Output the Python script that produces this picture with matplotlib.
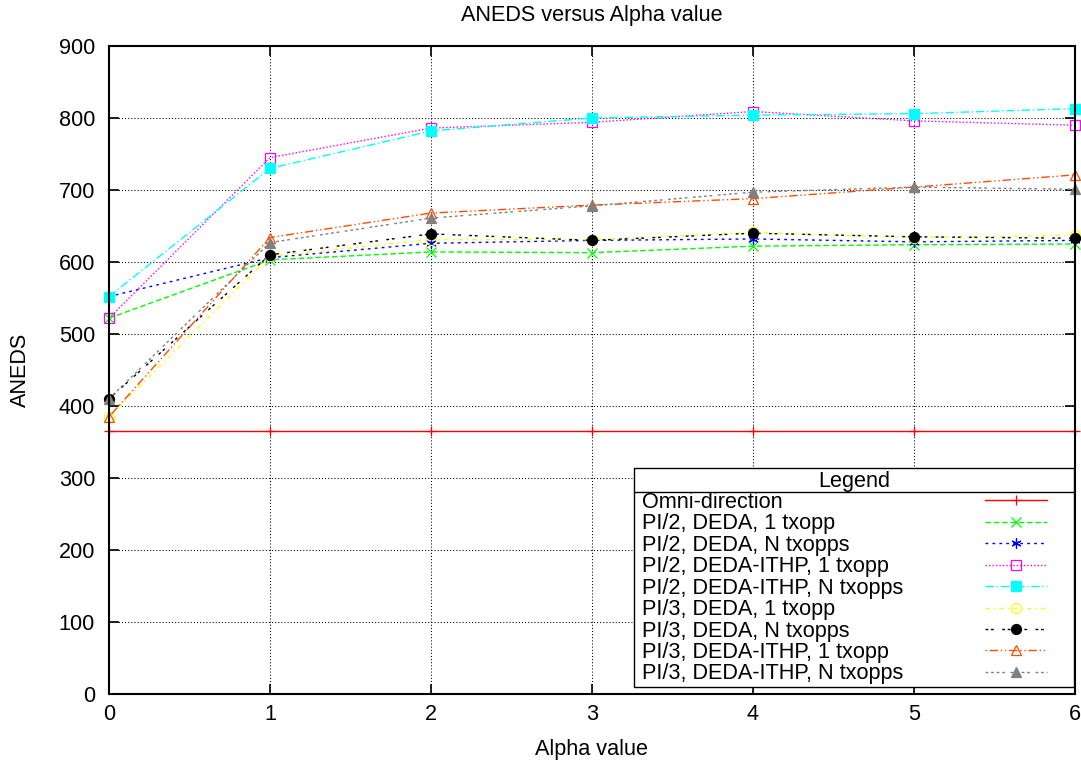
import matplotlib
matplotlib.use("Agg")
import matplotlib.pyplot as plt
from matplotlib.legend_handler import HandlerLine2D
from matplotlib.lines import Line2D
from matplotlib.offsetbox import HPacker, DrawingArea

# ---- data -------------------------------------------------------------
alpha = [0, 1, 2, 3, 4, 5, 6]

omni = [365, 365, 365, 365, 365, 365, 365]
pi2_deda_1 = [522, 603, 614, 613, 622, 624, 625]
pi2_deda_n = [552, 606, 626, 630, 632, 628, 630]
pi2_ithp_1 = [522, 745, 786, 794, 809, 796, 790]
pi2_ithp_n = [552, 730, 782, 800, 804, 806, 813]
pi3_deda_1 = [385, 608, 631, 631, 641, 634, 637]
pi3_deda_n = [410, 610, 639, 630, 640, 635, 633]
pi3_ithp_1 = [385, 634, 668, 679, 688, 704, 721]
pi3_ithp_n = [410, 627, 661, 678, 697, 704, 701]

series = [omni, pi2_deda_1, pi2_deda_n, pi2_ithp_1, pi2_ithp_n,
          pi3_deda_1, pi3_deda_n, pi3_ithp_1, pi3_ithp_n]

labels = [
    "Omni-direction",
    "PI/2, DEDA, 1 txopp",
    "PI/2, DEDA, N txopps",
    "PI/2, DEDA-ITHP, 1 txopp",
    "PI/2, DEDA-ITHP, N txopps",
    "PI/3, DEDA, 1 txopp",
    "PI/3, DEDA, N txopps",
    "PI/3, DEDA-ITHP, 1 txopp",
    "PI/3, DEDA-ITHP, N txopps",
]

y_ticks = [0, 100, 200, 300, 400, 500, 600, 700, 800, 900]

# ---- styling ----------------------------------------------------------
plt.rcParams["font.family"] = ["Liberation Sans", "DejaVu Sans"]
plt.rcParams["lines.scale_dashes"] = False

u = 1.0  # dash unit in points


def dash(*seq):
    return (0, tuple(s * u for s in seq))


styles = [
    dict(color="#ff0000", linestyle="-", marker="+", mfc="none"),
    dict(color="#00ff00", linestyle=dash(4, 2), marker="x", mfc="none"),
    dict(color="#0000ff", linestyle=dash(2, 3), marker=(6, 2, 0), mfc="none"),
    dict(color="#ff00ff", linestyle=dash(1, 1.5), marker="s", mfc="none"),
    dict(color="#00ffff", linestyle=dash(6, 2, 1, 2), marker="s", mfc="#00ffff"),
    dict(color="#ffff00", linestyle=dash(3, 3, 1, 3), marker="o", mfc="none"),
    dict(color="#000000", linestyle=dash(2, 2, 2, 6), marker="o", mfc="#000000"),
    dict(color="#ff4d00", linestyle=dash(1, 2, 6, 2, 1, 2), marker="^", mfc="none"),
    dict(color="#808080", linestyle=dash(2, 2, 2, 2, 2, 2, 2, 4), marker="^", mfc="#808080"),
]

FS = 15.6
LSPACE = 0.02

fig = plt.figure(figsize=(10.81, 7.64), dpi=100)
ax = fig.add_axes([0.1008, 0.0916, 0.8936, 0.8482])

for ys, lab, st in zip(series, labels, styles):
    ax.plot(alpha, ys, label=lab, linewidth=1.0, markersize=7.2,
            markeredgewidth=0.9, mec=st["color"], clip_on=False, **st)

ax.set_xlim(0, 6)
ax.set_ylim(0, 900)
ax.set_xticks(alpha)
ax.set_yticks(y_ticks)
ax.tick_params(direction="in", top=True, right=True, length=7, width=1.2,
               labelsize=FS, pad=7)
ax.tick_params(axis="y", pad=10)
for sp in ax.spines.values():
    sp.set_linewidth(1.5)

ax.grid(True, color="black", linewidth=0.75, linestyle=(0, (0.75, 1.5)))
ax.set_axisbelow(True)

ax.set_title("ANEDS versus Alpha value", fontsize=FS, pad=18)
ax.set_xlabel("Alpha value", fontsize=FS)
ax.set_ylabel("ANEDS", fontsize=FS)
ax.xaxis.set_label_coords(0.5, -0.069)
ax.yaxis.set_label_coords(-0.0807, 0.5)


# ---- legend: labels left, samples right, boxed title --------------------
class InsetLineHandler(HandlerLine2D):
    """Line sample that stops short of the right edge of its box."""

    def __init__(self, right_pad, **kw):
        super().__init__(**kw)
        self.right_pad = right_pad

    def create_artists(self, legend, orig_handle, xdescent, ydescent,
                       width, height, fontsize, trans):
        return super().create_artists(legend, orig_handle, xdescent, ydescent,
                                      width - self.right_pad, height,
                                      fontsize, trans)


fs_px = FS * fig.dpi / 72.0
borderpad = 0.12
bp_px = borderpad * fs_px
leg_w_px = 440.0
line_px = 62.0
text_indent_px = 5.0
rpad_px = 27.0 - bp_px
handlelength = (line_px + rpad_px) / fs_px

leg = ax.legend(
    loc="upper left", bbox_to_anchor=(0.5435, 0.3488), borderaxespad=0,
    fontsize=FS, title="Legend", title_fontsize=FS, markerfirst=False,
    handlelength=handlelength, handletextpad=0.5, labelspacing=LSPACE,
    borderpad=borderpad, fancybox=False, framealpha=1, edgecolor="black",
    handler_map={Line2D: InsetLineHandler(rpad_px * 72.0 / fig.dpi)},
)
leg.get_frame().set_linewidth(1.0)

# each row spans the full box: label flush left (small indent), sample right
item_w = leg_w_px - 2 * bp_px
for column in leg._legend_handle_box.get_children():
    for item in column.get_children():
        item.mode = "expand"
        item.width = item_w
        kids = item.get_children()
        indent = DrawingArea(text_indent_px * 72.0 / fig.dpi, 1)
        label_box = HPacker(pad=0, sep=0, align="baseline",
                            children=[indent, kids[0]])
        label_box.set_figure(fig)
        kids[0] = label_box

fig.canvas.draw()
renderer = fig.canvas.get_renderer()
fb = leg.get_frame().get_window_extent(renderer)
tb = leg.get_title().get_window_extent(renderer)
y_sep = tb.y0 - 0.5 * LSPACE * fs_px
inv = fig.transFigure.inverted()
(x0f, yf), (x1f, _) = inv.transform([(fb.x0, y_sep), (fb.x1, y_sep)])
fig.add_artist(Line2D([x0f, x1f], [yf, yf], transform=fig.transFigure,
                      color="black", linewidth=1.0, zorder=10))

fig.savefig("out.png", dpi=100)
